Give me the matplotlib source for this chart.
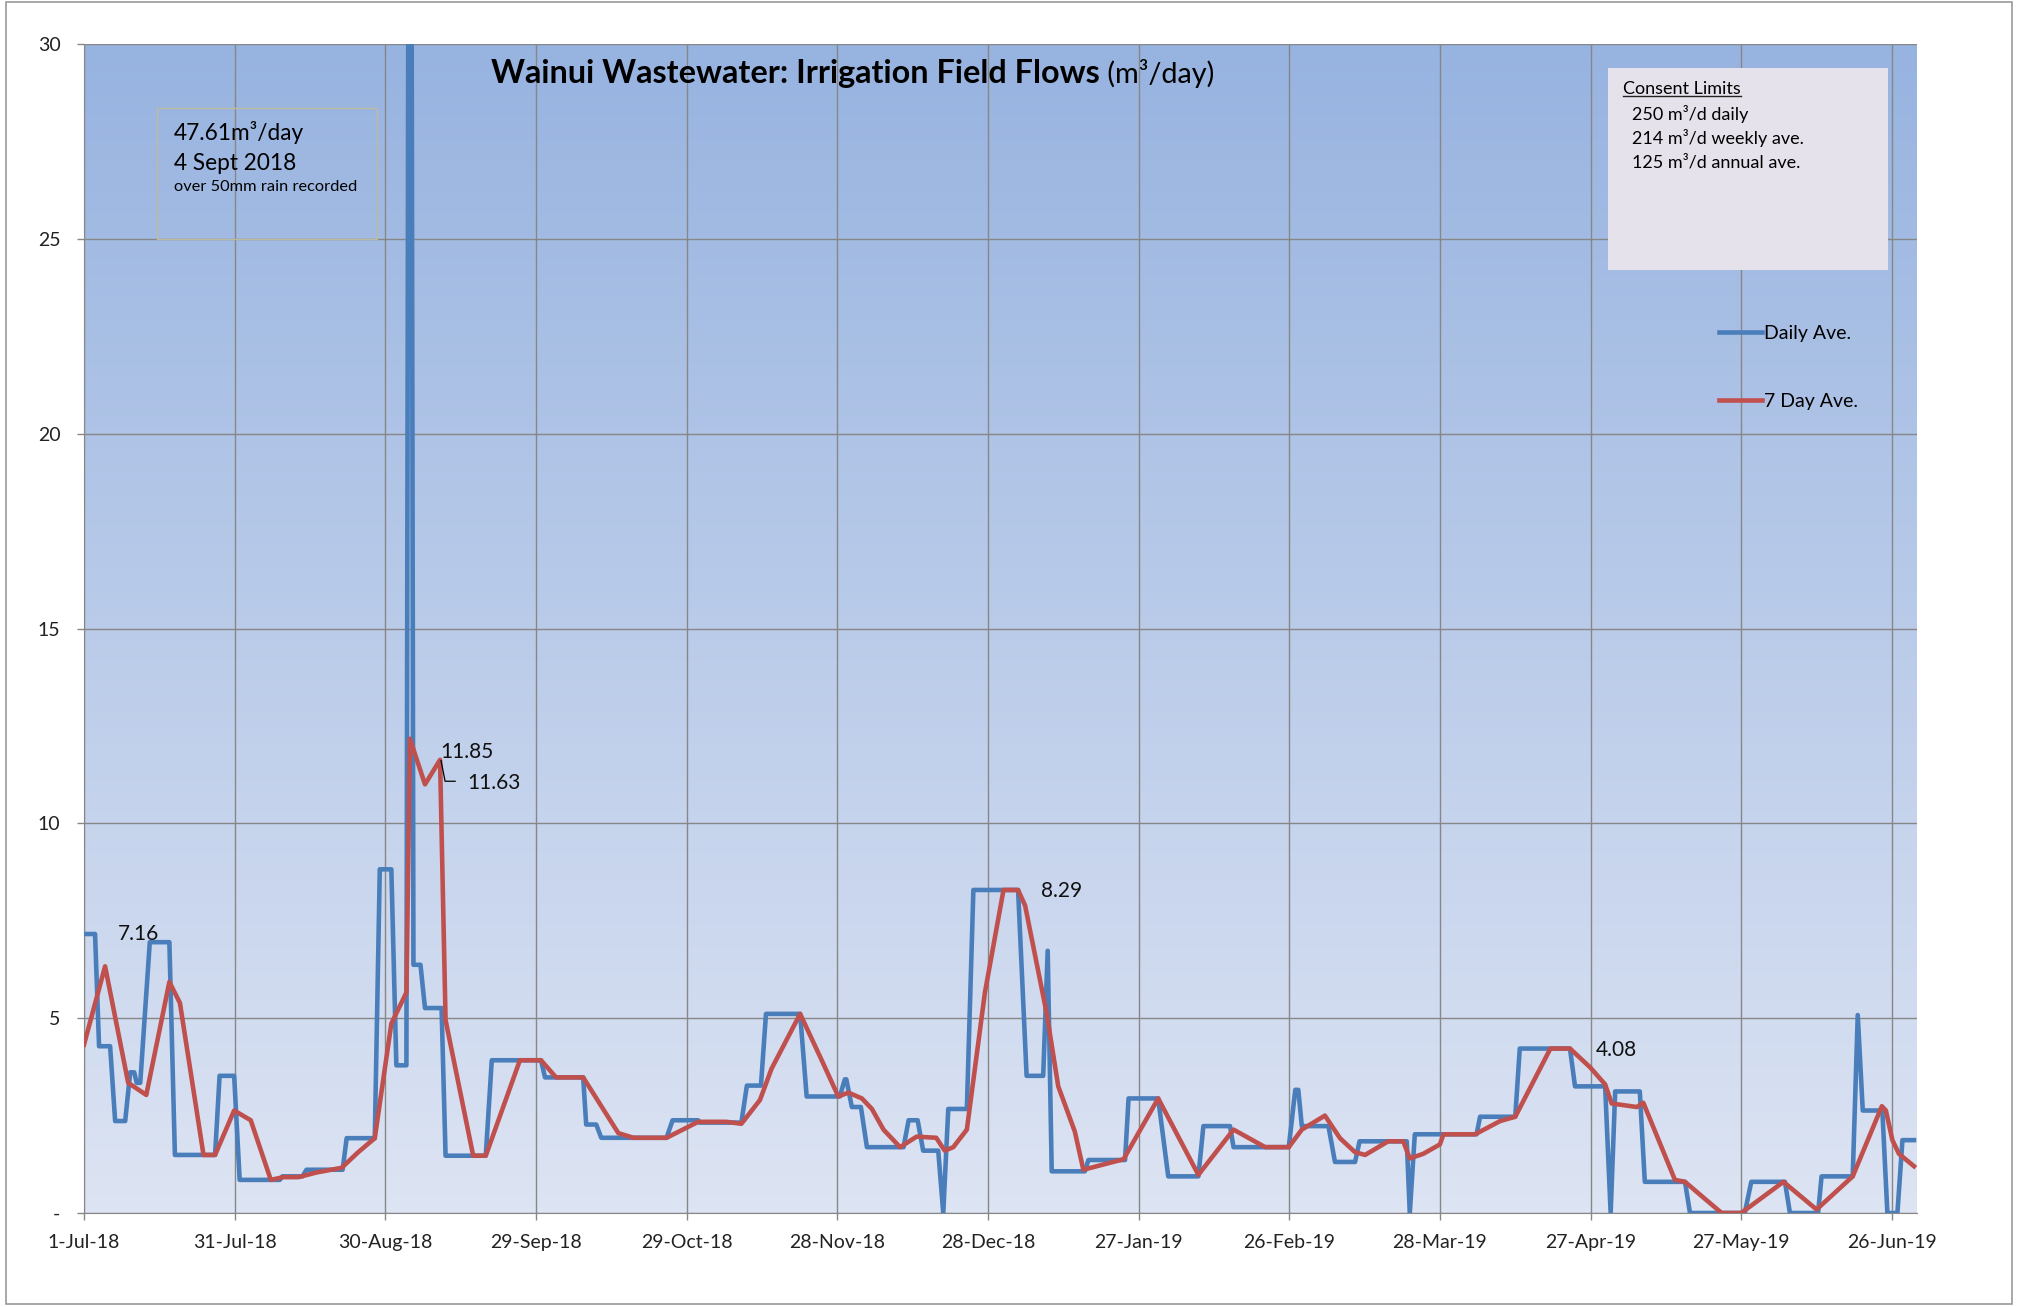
import matplotlib
matplotlib.use('Agg')
import matplotlib.pyplot as plt
import matplotlib.dates as mdates
import numpy as np
from datetime import datetime
from matplotlib.colors import LinearSegmentedColormap
from matplotlib.patches import Rectangle

W, H = 2022, 1307
START = mdates.date2num(datetime(2018, 7, 1))

# Daily average: runs of constant flow between meter readings (days after 1-Jul-18)
run_start = [0, 3, 6.2, 9.2, 10.5, 13.1, 18.1, 27, 31, 39.5, 44.3, 52.3, 58.9, 62.2,
             64.8, 65.6, 67.9, 72, 81.2, 91.8, 100, 103, 117.2, 122.5, 132, 135.8,
             143.9, 151.5, 152.9, 155.9, 164.2, 167.1, 171.1, 172.1, 177.1, 187.7,
             191.9, 192.7, 200, 208, 215.9, 222.9, 228.9, 241.2, 242.5, 249.1, 254,
             264, 265, 278, 285.9, 296.9, 304, 304.9, 310.8, 319.8, 332, 339.7, 346,
             353.2, 354.2, 359.1, 362.1]
run_end = [2.2, 5.2, 8.2, 10, 11.2, 17, 26.1, 29.9, 39, 43.5, 51.5, 57.9, 61.2, 64.2,
           65.0, 67, 71.2, 80, 91, 99.4, 102, 116, 122.3, 130.9, 134.8, 142.6,
           150.5, 151.8, 154.7, 163.2, 166, 170.1, 171.1, 175.8, 186, 191,
           191.9, 199.3, 207.3, 213.9, 221.9, 228.2, 239.9, 241.8, 247.8, 253.1, 263.4,
           264, 277.3, 285, 295.9, 302.9, 304, 309.8, 318.8, 330.7, 338.7, 345.3, 352.2,
           353.2, 358.1, 361.1, 364.4]
run_value = [7.16, 4.28, 2.36, 3.61, 3.34, 6.95, 1.49, 3.52, 0.85, 0.94, 1.11, 1.92, 8.82, 3.79,
             47.61, 6.37, 5.26, 1.47, 3.92, 3.48, 2.27, 1.93, 2.38, 2.32, 3.27, 5.11,
             2.99, 3.43, 2.72, 1.69, 2.38, 1.60, 0, 2.67, 8.29, 3.52,
             6.73, 1.07, 1.36, 2.94, 0.94, 2.23, 1.69, 3.16, 2.23, 1.31, 1.84,
             0, 2.02, 2.47, 4.22, 3.25, 0, 3.12, 0.80, 0, 0.80, 0, 0.94,
             5.08, 2.63, 0, 1.87]

# 7 day average
avg_day = [0, 4.2, 8.8, 12.4, 17, 19.1, 23.8, 26.1, 29.9, 33.2, 37.2, 39.7, 42.7, 46.3,
           51.3, 54.6, 57.9, 61.2, 64.2, 64.9, 67.9, 70.9, 72, 77.5, 80, 86.8, 91, 94,
           99.4, 106.4, 109.4, 116, 122.3, 127.9, 130.9, 134.6, 136.9, 142.6, 146.9,
           150.2, 152.2, 154.9, 156.9, 159.2, 162.5, 165.8, 169.7, 171.4, 173.1, 175.8,
           179.4, 183.1, 186, 187.4, 191.7, 194, 197.3, 199, 207, 213.9, 221.9, 228.9,
           235.2, 239.9, 242.5, 247.1, 250.1, 253.1, 255.1, 259.7, 262.7, 264, 266.7,
           270, 270.7, 277, 282, 285, 292, 295.9, 299.9, 302.9, 304.2, 309.2, 310.5,
           316.8, 318.8, 322.8, 326.1, 330, 338.4, 345, 352.2, 358, 358.8, 360.1,
           361.4, 364.4]
avg_value = [4.32, 6.33, 3.34, 3.03, 5.93, 5.39, 1.49, 1.49, 2.63, 2.38, 0.85, 0.92, 0.92, 1.04,
             1.16, 1.56, 1.92, 4.86, 5.66, 12.17, 11.0, 11.63, 4.95, 1.47, 1.47, 3.92, 3.92, 3.48,
             3.48, 2.05, 1.93, 1.93, 2.34, 2.34, 2.29, 2.9, 3.7, 5.11, 3.92,
             2.99, 3.09, 2.94, 2.67, 2.14, 1.69, 1.96, 1.93, 1.60, 1.69, 2.14,
             5.66, 8.29, 8.29, 7.89, 5.12, 3.25, 2.09, 1.11, 1.38, 2.94, 0.98, 2.14,
             1.69, 1.69, 2.14, 2.5, 1.92, 1.56, 1.49, 1.84, 1.84, 1.40, 1.52,
             1.76, 2.02, 2.02, 2.36, 2.47, 4.22, 4.22, 3.74, 3.30, 2.81, 2.72, 2.83,
             0.85, 0.80, 0.36, 0, 0, 0.80, 0.09, 0.94, 2.74, 2.63, 1.87,
             1.52, 1.2]

tick_days = list(range(0, 361, 30))
y_ticks = [0, 5, 10, 15, 20, 25, 30]

BLUE = '#4A7EBB'
RED = '#C0504D'
GRID = '#878787'

plt.rcParams['font.family'] = ['Lato', 'DejaVu Sans']


def fxy(px, py):
    """Figure pixel -> figure fraction."""
    return px / W, 1 - py / H


fig = plt.figure(figsize=(W / 100, H / 100), dpi=100)
ax = fig.add_axes([84 / W, 1 - 1213 / H, 1833 / W, 1169 / H])

# gradient plot area
cmap = LinearSegmentedColormap.from_list('bg', ['#DDE4F3', '#97B3E0'])
grad = np.linspace(0, 1, 256).reshape(-1, 1)
ax.imshow(grad, cmap=cmap, aspect='auto', origin='lower',
          extent=[0, 1, 0, 1], transform=ax.transAxes, zorder=0)

xs = START + np.column_stack([run_start, run_end]).ravel()
ys = np.repeat(run_value, 2)
ax.plot(xs, ys, color=BLUE, lw=3.3, label='Daily Ave.', zorder=3)
ax.plot(START + np.array(avg_day), avg_value, color=RED, lw=3.3,
        label='7 Day Ave.', zorder=4)

ax.set_xlim(START, START + 365)
ax.set_ylim(0, 30)
ax.set_xticks(START + np.array(tick_days))
ax.xaxis.set_major_formatter(plt.FuncFormatter(
    lambda v, p: f"{mdates.num2date(v).day}-{mdates.num2date(v):%b-%y}"))
ax.set_yticks(y_ticks)
ax.set_yticklabels(['-' if t == 0 else str(t) for t in y_ticks])
ax.tick_params(axis='both', colors=GRID, labelcolor='#222222', labelsize=14,
               length=5, width=1)
ax.tick_params(axis='y', pad=12)
ax.tick_params(axis='x', pad=10)
ax.grid(True, color=GRID, lw=1)
ax.set_axisbelow(True)
for side in ('top', 'right'):
    ax.spines[side].set_visible(False)
for side in ('left', 'bottom'):
    ax.spines[side].set_color(GRID)

# data labels
lab = dict(fontsize=15, color='#111111', va='center', ha='left', zorder=5)
ax.text(START + 6.8, 7.15, '7.16', **lab)
ax.text(START + 71.0, 11.83, '11.85', **lab)
ax.text(START + 76.3, 11.03, '11.63', **lab)
ax.plot(START + np.array([71.1, 71.9, 73.9]), [11.61, 11.08, 11.08],
        color='black', lw=0.9, zorder=5)
ax.text(START + 190.5, 8.27, '8.29', **lab)
ax.text(START + 301.0, 4.19, '4.08', **lab)

ax.legend(loc='upper left', bbox_to_anchor=((1719 - 84) / 1833, (1213 - 325) / 1169),
          frameon=False, handlelength=2.2, handletextpad=0.1, labelspacing=2.6,
          fontsize=14, borderpad=0, borderaxespad=0)

# title
title = fig.text(*fxy(491, 74), 'Wainui Wastewater: Irrigation Field Flows',
                 fontsize=23.3, fontweight='bold', va='center', ha='left')
ax.annotate(' (m³/day)', xy=(1, 0), xycoords=title, fontsize=20.8,
            va='bottom', ha='left')

# rain note box
fig.patches.append(Rectangle(fxy(157, 239), 220 / W, 131 / H, transform=fig.transFigure,
                             fill=False, edgecolor='#BDBB9F', lw=1))
fig.text(*fxy(174, 132), '47.61m³/day', fontsize=16.3, va='center')
fig.text(*fxy(174, 163), '4 Sept 2018', fontsize=16.3, va='center')
fig.text(*fxy(174, 187), 'over 50mm rain recorded', fontsize=11.8, va='center')

# consent limits box
fig.patches.append(Rectangle(fxy(1608, 270), 280 / W, 202 / H, transform=fig.transFigure,
                             facecolor='#E6E2EC', edgecolor='none'))
cl = fig.text(*fxy(1623, 89), 'Consent Limits', fontsize=13, va='center')
fig.text(*fxy(1632, 114), '250 m³/d daily', fontsize=13, va='center')
fig.text(*fxy(1632, 138), '214 m³/d weekly ave.', fontsize=13, va='center')
fig.text(*fxy(1632, 163), '125 m³/d annual ave.', fontsize=13, va='center')

# outer chart border
fig.patches.append(Rectangle(fxy(6, 1304), 2006 / W, 1302 / H, transform=fig.transFigure,
                             fill=False, edgecolor='#9A9A9A', lw=1.2))

# underline "Consent Limits"
fig.canvas.draw()
bb = cl.get_window_extent().transformed(fig.transFigure.inverted())
fig.add_artist(plt.Line2D([bb.x0, bb.x1], [bb.y0 + 0.001, bb.y0 + 0.001],
                          transform=fig.transFigure, color='#222222', lw=1))

fig.savefig('out.png', dpi=100)
